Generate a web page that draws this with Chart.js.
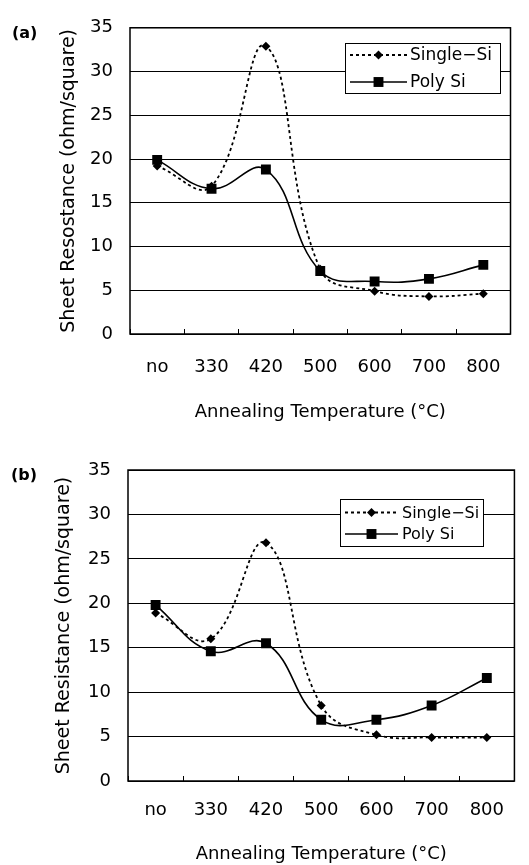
<!DOCTYPE html>
<html>
<head>
<meta charset="utf-8">
<title>Sheet resistance vs annealing temperature</title>
<script src="https://cdn.jsdelivr.net/npm/chart.js@4/dist/chart.umd.min.js"></script>
<style>
  html, body { margin: 0; padding: 0; background: #fff; }
  body { width: 529px; height: 865px; position: relative; overflow: hidden; font-family: 'DejaVu Sans', sans-serif; }
  .panel { position: absolute; left: 0; width: 529px; }
  #panel-a { top: 0; height: 430px; }
  #panel-b { top: 440px; height: 425px; }
  .tag { position: absolute; font: bold 16px 'DejaVu Sans', sans-serif; color: #000; }
</style>
</head>
<body>
<div class="panel" id="panel-a"><canvas id="chart-a"></canvas></div>
<div class="panel" id="panel-b"><canvas id="chart-b"></canvas></div>
<div class="tag" style="left:12px; top:23px">(a)</div>
<div class="tag" style="left:11px; top:465px">(b)</div>

<script>
// --- data ---
const temperatures = ['no', '330', '420', '500', '600', '700', '800'];
const seriesNames = ['Single\u2212Si', 'Poly Si'];

// panel (a)
const singleSiA = [19.2, 16.9, 32.9, 7.4, 4.9, 4.3, 4.6];
const polySiA   = [19.9, 16.6, 18.8, 7.2, 6.0, 6.3, 7.9];

// panel (b)
const singleSiB = [18.9, 16.0, 26.8, 8.5, 5.2, 4.9, 4.9];
const polySiB   = [19.8, 14.6, 15.5, 6.9, 6.9, 8.5, 11.6];

const yMin = 0;
const yMax = 35;
const yStep = 5;

const FONT = "'DejaVu Sans', sans-serif";

// plot frame drawn around the chart area
const frame = {
  id: 'frame',
  beforeDatasetsDraw(chart) {
    const { ctx, chartArea: a } = chart;
    ctx.save();
    ctx.strokeStyle = '#000';
    ctx.lineWidth = 1.5;
    ctx.strokeRect(a.left, a.top, a.right - a.left, a.bottom - a.top);
    ctx.restore();
  }
};

// boxed legend sitting inside the plot (line sample with marker in the middle)
const boxLegend = {
  id: 'boxLegend',
  afterDatasetsDraw(chart, args, opts) {
    const ctx = chart.ctx;
    ctx.save();
    ctx.fillStyle = '#fff';
    ctx.fillRect(opts.x, opts.y, opts.w, opts.h);
    ctx.strokeStyle = '#000';
    ctx.lineWidth = 1;
    ctx.strokeRect(opts.x + 0.5, opts.y + 0.5, opts.w, opts.h);

    chart.data.datasets.forEach((ds, i) => {
      const cy = opts.y + opts.rows[i];
      const x0 = opts.sampleX;
      const x1 = opts.sampleX + opts.sampleW;
      const cx = (x0 + x1) / 2;

      ctx.beginPath();
      ctx.setLineDash(ds.borderDash || []);
      ctx.lineWidth = ds.borderWidth;
      ctx.strokeStyle = ds.borderColor;
      ctx.moveTo(x0, cy);
      ctx.lineTo(x1, cy);
      ctx.stroke();
      ctx.setLineDash([]);

      ctx.fillStyle = ds.pointBackgroundColor;
      ctx.beginPath();
      if (ds.pointStyle === 'rect') {
        const s = ds.pointRadius * Math.SQRT1_2;
        ctx.rect(cx - s, cy - s, 2 * s, 2 * s);
      } else {
        const r = ds.pointRadius;
        ctx.moveTo(cx - r, cy);
        ctx.lineTo(cx, cy - r);
        ctx.lineTo(cx + r, cy);
        ctx.lineTo(cx, cy + r);
        ctx.closePath();
      }
      ctx.fill();

      ctx.fillStyle = '#000';
      ctx.font = `${opts.fontSize}px ${FONT}`;
      ctx.textBaseline = 'middle';
      ctx.textAlign = 'left';
      ctx.fillText(ds.label, x1 + opts.textGap, cy + 1);
    });
    ctx.restore();
  }
};

function makeChart(canvasId, single, poly, yTitle, g) {
  const ctx = document.getElementById(canvasId);
  return new Chart(ctx, {
    type: 'line',
    data: {
      labels: temperatures,
      datasets: [
        {
          label: seriesNames[0],
          data: single,
          borderColor: '#000',
          borderWidth: 1.8,
          borderDash: [3, 3],
          pointStyle: 'rectRot',
          pointRadius: 4.5,
          pointBackgroundColor: '#000',
          pointBorderWidth: 0,
          tension: 0.42,
          fill: false
        },
        {
          label: seriesNames[1],
          data: poly,
          borderColor: '#000',
          borderWidth: 1.6,
          pointStyle: 'rect',
          pointRadius: 7,
          pointBackgroundColor: '#000',
          pointBorderWidth: 0,
          tension: 0.42,
          fill: false
        }
      ]
    },
    options: {
      responsive: true,
      maintainAspectRatio: false,
      animation: false,
      devicePixelRatio: 1,
      layout: { padding: { top: g.padTop, right: g.padRight, left: 0, bottom: 0 } },
      plugins: {
        legend: { display: false },
        tooltip: { enabled: false },
        boxLegend: g.legend
      },
      scales: {
        x: {
          type: 'category',
          offset: true,
          border: { display: false },
          grid: {
            offset: true,
            drawOnChartArea: false,
            drawTicks: true,
            tickLength: -5,
            color: '#000',
            lineWidth: 1
          },
          ticks: {
            color: '#000',
            font: { family: FONT, size: 18 },
            padding: g.xTickPad,
            maxRotation: 0,
            autoSkip: false
          },
          title: {
            display: true,
            text: 'Annealing Temperature (\u00B0C)',
            color: '#000',
            font: { family: FONT, size: 18 },
            padding: { top: 0, bottom: g.xTitlePad }
          },
          afterFit(scale) { scale.height = g.xHeight; }
        },
        y: {
          min: yMin,
          max: yMax,
          border: { display: false },
          grid: { color: '#000', lineWidth: 1, drawTicks: false },
          ticks: {
            stepSize: yStep,
            color: '#000',
            font: { family: FONT, size: 18 },
            padding: 17
          },
          title: {
            display: true,
            text: yTitle,
            color: '#000',
            font: { family: FONT, size: 19 },
            padding: { top: g.yTitlePad, bottom: 0 }
          },
          afterFit(scale) { scale.width = g.yWidth; }
        }
      }
    },
    plugins: [frame, boxLegend]
  });
}

makeChart('chart-a', singleSiA, polySiA, 'Sheet Resostance (ohm/square)', {
  padTop: 15, padRight: 6, yWidth: 130, xHeight: 96,
  xTickPad: 28, xTitlePad: 7, yTitlePad: 58,
  legend: { x: 345, y: 43, w: 155, h: 50, rows: [12, 39], sampleX: 350, sampleW: 57, textGap: 3, fontSize: 17 }
});

makeChart('chart-b', singleSiB, polySiB, 'Sheet Resistance (ohm/square)', {
  padTop: 30, padRight: 14, yWidth: 128, xHeight: 84,
  xTickPad: 24, xTitlePad: 0, yTitlePad: 53,
  legend: { x: 340, y: 59, w: 143, h: 47, rows: [13.5, 35], sampleX: 345, sampleW: 53, textGap: 4, fontSize: 16 }
});
</script>
</body>
</html>
